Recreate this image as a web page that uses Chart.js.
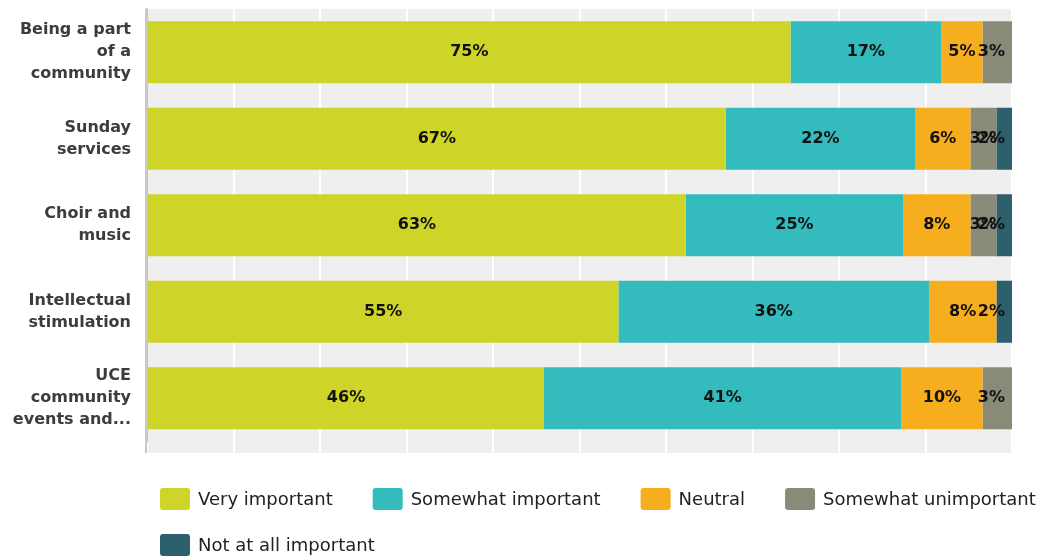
<!DOCTYPE html>
<html><head><meta charset="utf-8">
<script src="https://cdn.jsdelivr.net/npm/chart.js@4.4.1/dist/chart.umd.min.js"></script>
<style>html,body{margin:0;padding:0;background:#fff;} #wrap{width:1042px;height:557px;position:relative;}</style>
</head><body><div id="wrap"><canvas id="c"></canvas></div>
<script>
// ---- data ----
const categories = [
  ["Being a part", "of a", "community"],
  ["Sunday", "services"],
  ["Choir and", "music"],
  ["Intellectual", "stimulation"],
  ["UCE", "community", "events and..."]
];
const seriesNames = ["Very important", "Somewhat important", "Neutral", "Somewhat unimportant", "Not at all important"];
// bar shares (% of row)
const veryImportant       = [74.4, 66.9, 62.3, 54.5, 45.9];
const somewhatImportant   = [17.4, 21.9, 25.1, 35.9, 41.3];
const neutral             = [4.8, 6.4, 7.8, 7.8, 9.4];
const somewhatUnimportant = [3.4, 3.0, 3.0, 0, 3.4];
const notAtAllImportant   = [0, 1.8, 1.8, 1.8, 0];
// printed labels on the bars
const veryImportantLabels       = ["75%", "67%", "63%", "55%", "46%"];
const somewhatImportantLabels   = ["17%", "22%", "25%", "36%", "41%"];
const neutralLabels             = ["5%", "6%", "8%", "8%", "10%"];
const somewhatUnimportantLabels = ["3%", "3%", "3%", "", "3%"];
const notAtAllImportantLabels   = ["", "2%", "2%", "2%", ""];
const xTickValues = [0, 10, 20, 30, 40, 50, 60, 70, 80, 90, 100];

const colors = ["#cfd428", "#33bbbe", "#f6ae1f", "#8a8a79", "#2e5f6d"];
const seriesData = [veryImportant, somewhatImportant, neutral, somewhatUnimportant, notAtAllImportant];
const seriesLabels = [veryImportantLabels, somewhatImportantLabels, neutralLabels, somewhatUnimportantLabels, notAtAllImportantLabels];

const FONT = '"DejaVu Sans", Verdana, sans-serif';

const bgPlugin = {
  id: 'bg',
  beforeDraw(chart) {
    const {ctx, chartArea: a} = chart;
    const xs = chart.scales.x;
    ctx.save();
    ctx.fillStyle = '#efefef';
    ctx.fillRect(a.left, a.top, a.right - a.left, a.bottom - a.top + xs.height);
    ctx.restore();
  },
  afterDraw(chart) {
    const {ctx, chartArea: a} = chart;
    const xs = chart.scales.x;
    ctx.save();
    ctx.strokeStyle = '#c8c8c8';
    ctx.lineWidth = 2;
    ctx.beginPath();
    ctx.moveTo(a.left - 1, a.top);
    ctx.lineTo(a.left - 1, a.bottom + xs.height);
    ctx.stroke();
    ctx.restore();
  }
};

const labelPlugin = {
  id: 'barLabels',
  afterDatasetsDraw(chart) {
    const {ctx, chartArea: a} = chart;
    ctx.save();
    ctx.font = 'bold 16px ' + FONT;
    ctx.fillStyle = '#111111';
    ctx.textAlign = 'center';
    ctx.textBaseline = 'middle';
    chart.data.datasets.forEach((ds, i) => {
      const meta = chart.getDatasetMeta(i);
      meta.data.forEach((el, j) => {
        const txt = seriesLabels[i][j];
        if (!ds.data[j] || !txt) return;
        const p = el.getProps(['x', 'base', 'y'], true);
        let cx = (p.x + p.base) / 2;
        const w = ctx.measureText(txt).width;
        if (cx + w / 2 > a.right - 7) cx = a.right - 7 - w / 2;
        ctx.fillText(txt, cx, p.y);
      });
    });
    ctx.restore();
  }
};

const legendPlugin = {
  id: 'customLegend',
  afterDraw(chart) {
    const {ctx} = chart;
    ctx.save();
    ctx.font = '18px ' + FONT;
    ctx.textBaseline = 'middle';
    ctx.textAlign = 'left';
    const startX = 160, gap = 40, boxW = 30, boxH = 22, rowH = 46;
    let x = startX, y = 488;
    chart.data.datasets.forEach((ds, i) => {
      const tw = ctx.measureText(ds.label).width;
      const iw = boxW + 8 + tw;
      if (i > 0 && x + iw > chart.width) { x = startX; y += rowH; }
      ctx.fillStyle = ds.backgroundColor;
      ctx.beginPath();
      ctx.roundRect(x, y, boxW, boxH, 3);
      ctx.fill();
      ctx.fillStyle = '#222222';
      ctx.fillText(ds.label, x + boxW + 8, y + boxH / 2 + 1);
      x += iw + gap;
    });
    ctx.restore();
  }
};

new Chart(document.getElementById('c'), {
  type: 'bar',
  data: {
    labels: categories,
    datasets: seriesNames.map((n, i) => ({
      label: n,
      data: seriesData[i],
      backgroundColor: colors[i],
      borderWidth: 0,
      barPercentage: 0.717,
      categoryPercentage: 1
    }))
  },
  options: {
    indexAxis: 'y',
    responsive: true,
    maintainAspectRatio: false,
    animation: false,
    layout: { padding: { top: 9, right: 30, bottom: 104, left: 0 } },
    plugins: { legend: { display: false }, tooltip: { enabled: false } },
    scales: {
      x: {
        stacked: true, min: 0, max: 100,
        afterBuildTicks: s => { s.ticks = xTickValues.map(v => ({ value: v })); },
        afterFit: s => { s.height = 11.5; s.paddingLeft = 0; s.paddingRight = 0; },
        ticks: { display: false },
        grid: { color: '#ffffff', lineWidth: 2, drawTicks: true, tickLength: 12, tickColor: '#ffffff', tickWidth: 2 },
        border: { display: false }
      },
      y: {
        stacked: true,
        afterFit: s => { s.width = 147; s.paddingTop = 0; s.paddingBottom = 0; },
        ticks: { color: '#3c3c3c', padding: 16, font: { family: FONT, size: 16, weight: 'bold', lineHeight: 1.375 } },
        grid: { display: false, drawTicks: false },
        border: { display: true, color: '#c8c8c8', width: 2 }
      }
    }
  },
  plugins: [bgPlugin, labelPlugin, legendPlugin]
});
</script></body></html>
